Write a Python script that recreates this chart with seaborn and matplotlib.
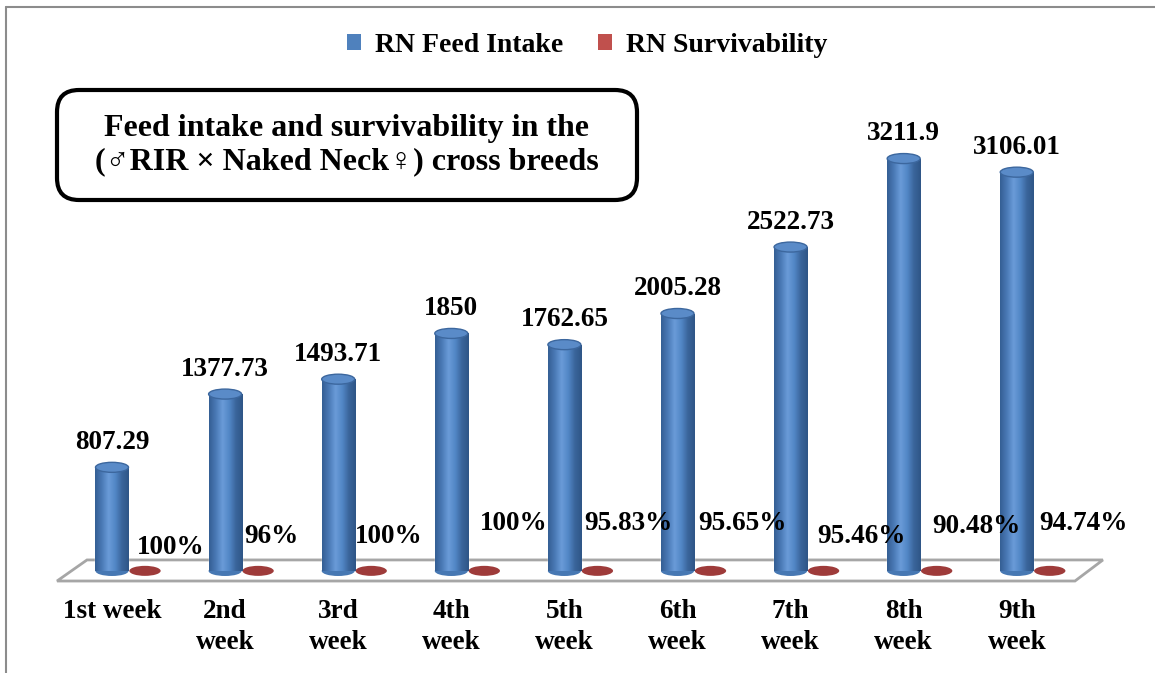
import matplotlib
matplotlib.use("Agg")
import matplotlib.pyplot as plt
import seaborn as sns
import pandas as pd
import numpy as np
from matplotlib.patches import Ellipse, FancyBboxPatch, Polygon, Patch
from matplotlib.colors import LinearSegmentedColormap
from matplotlib.lines import Line2D
from matplotlib.transforms import IdentityTransform

# === DATA ===
weeks = ["1st week", "2nd\nweek", "3rd\nweek", "4th\nweek", "5th\nweek",
         "6th\nweek", "7th\nweek", "8th\nweek", "9th\nweek"]
feed_intake = [807.29, 1377.73, 1493.71, 1850, 1762.65, 2005.28, 2522.73, 3211.9, 3106.01]
survivability_pct = [100, 96, 100, 100, 95.83, 95.65, 95.46, 90.48, 94.74]
series_names = ["RN Feed Intake", "RN Survivability"]

# survivability was stored as a fraction in the sheet, so it sits flat on the floor
df = pd.DataFrame({
    "week": weeks * 2,
    "series": [series_names[0]] * len(weeks) + [series_names[1]] * len(weeks),
    "value": feed_intake + [p / 100 for p in survivability_pct],
})

# label nudges (pixels) for the percent labels, as placed in the original
pct_dx = [26, 13, 18, 29, 31, 32, 38, 40, 34]
pct_dy = [23, 34, 34, 47, 47, 47, 34, 44, 47]

BLUE = "#4F81BD"
RED = "#C0504D"
SERIF = ["Liberation Serif", "DejaVu Serif"]

sns.set_theme(style="white")
plt.rcParams["font.family"] = SERIF
plt.rcParams["font.weight"] = "bold"
plt.rcParams["text.color"] = "black"
plt.rcParams["xtick.color"] = "black"

fig = plt.figure(figsize=(11.55, 6.73), dpi=100)
ax = fig.add_axes([40 / 1155, 78 / 673, 1080 / 1155, 500 / 673])

sns.barplot(data=df, x="week", y="value", hue="series", palette=[BLUE, RED],
            width=0.5836, dodge=True, legend=False, ax=ax, zorder=3)

XLIM = (-0.7825, 8.767)
YLIM = (-187, 3707)
ell_h = 78  # ellipse height in data units (~10 px)

# floor of the 3D plot
floor = Polygon([(-0.367, 86), (8.616, 86), (8.369, -78), (-0.632, -78)],
                closed=True, facecolor="white", edgecolor="#A6A6A6", lw=2, zorder=1)
ax.add_patch(floor)

cyl_cmap = LinearSegmentedColormap.from_list(
    "cyl", ["#355F94", "#4A7AB6", "#6A9BD8", "#5287C6", "#3A659B", "#2F5687"])
grad = np.linspace(0, 1, 64).reshape(1, -1)

blue_bars = ax.containers[0]
red_bars = ax.containers[1]

for bar, v in zip(blue_bars, feed_intake):
    x, w, h = bar.get_x(), bar.get_width(), bar.get_height()
    cx = x + w / 2
    # rounded bottom
    ax.add_patch(Ellipse((cx, 0), w, ell_h, facecolor="#4778B3", edgecolor="none", zorder=3))
    im = ax.imshow(grad, extent=[x, x + w, 0, h], aspect="auto", cmap=cyl_cmap, zorder=4)
    im.set_clip_path(bar)
    # top cap
    ax.add_patch(Ellipse((cx, h), w, ell_h, facecolor="#5A8BC8", edgecolor="#3C679E",
                         lw=1, zorder=5))
    ax.annotate(f"{v:g}", (cx, h), xytext=(0, 25), textcoords="offset pixels",
                ha="center", va="center", fontsize=19.5, fontweight="bold",
                family=SERIF, color="black", zorder=6)

for i, (bar, p) in enumerate(zip(red_bars, survivability_pct)):
    x, w, h = bar.get_x(), bar.get_width(), bar.get_height()
    cx = x + w / 2
    bar.set_visible(False)
    ax.add_patch(Ellipse((cx, h), w * 0.95, ell_h, facecolor="#9E3B3A", edgecolor="none",
                         zorder=3))
    ax.annotate(f"{p:g}%", (cx, 0), xytext=(pct_dx[i], pct_dy[i]), textcoords="offset pixels",
                ha="center", va="center", fontsize=19.5, fontweight="bold",
                family=SERIF, color="black", zorder=6)

ax.set_xlim(*XLIM)
ax.set_ylim(*YLIM)

# category labels sit under the blue cylinders
ax.set_xticks([b.get_x() + b.get_width() / 2 for b in blue_bars])
ax.set_xticklabels(weeks, fontsize=19.5, fontweight="bold", family=SERIF, linespacing=1.32,
                   color="black")
ax.tick_params(axis="x", length=0, pad=3)
ax.set_yticks([])
ax.set_xlabel("")
ax.set_ylabel("")
for s in ax.spines.values():
    s.set_visible(False)

# legend
handles = [Patch(facecolor=BLUE, edgecolor="none"), Patch(facecolor=RED, edgecolor="none")]
leg = fig.legend(handles, series_names, loc="center", bbox_to_anchor=(587 / 1155, 1 - 45 / 673),
                 ncol=2, frameon=False, handlelength=0.5, handleheight=0.5, handletextpad=0.5,
                 columnspacing=1.25, prop={"family": SERIF, "weight": "bold", "size": 20})
for t in leg.get_texts():
    t.set_color("black")

# title box
box = FancyBboxPatch((57, 673 - 200), 580, 110, boxstyle="round,pad=0,rounding_size=22",
                     transform=IdentityTransform(), facecolor="white", edgecolor="black",
                     lw=3, zorder=10)
fig.add_artist(box)
fig.text(347 / 1155, 1 - 145 / 673,
         "Feed intake and survivability in the\n(\u2642RIR \u00d7 Naked Neck\u2640) cross breeds",
         ha="center", va="center", fontsize=23, fontweight="bold", family=SERIF,
         linespacing=1.22, color="black", zorder=11)

# outer chart frame (only left and top edges visible)
fig.add_artist(Line2D([6 / 1155, 6 / 1155], [0, 1 - 7 / 673], color="#8C8C8C", lw=1.5))
fig.add_artist(Line2D([6 / 1155, 1], [1 - 7 / 673, 1 - 7 / 673], color="#8C8C8C", lw=1.5))

fig.savefig("out.png", dpi=100, facecolor="white")
